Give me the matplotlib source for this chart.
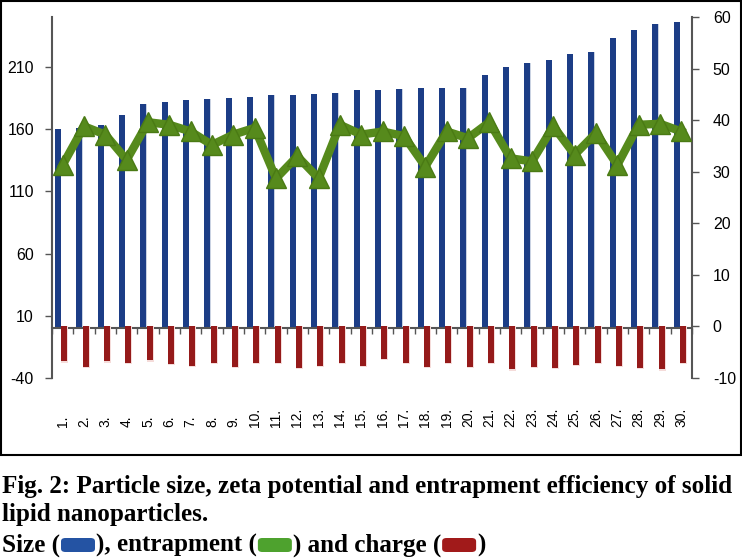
import numpy as np
import matplotlib
matplotlib.use('Agg')
import matplotlib.pyplot as plt
from matplotlib.patches import FancyBboxPatch, Rectangle
import matplotlib.transforms as mtransforms

plt.rcParams['axes.unicode_minus'] = False

labels = [f'{i}.' for i in range(1, 31)]
size = [160, 161, 163, 171, 180, 182, 183.5, 184.5, 185, 186,
        187, 187, 188, 189, 191, 191, 192, 193, 193, 193,
        203.5, 210, 213, 215.5, 220, 222, 233, 239.5, 244, 246]
entrapment = [31.3, 38.8, 37.2, 32.3, 39.6, 39.1, 37.8, 35.2, 37.2, 38.5,
              28.7, 33.0, 28.7, 39.1, 37.2, 37.8, 36.9, 31.0, 37.8, 36.5,
              39.6, 32.6, 32.0, 38.8, 33.3, 37.5, 31.3, 39.1, 39.3, 37.8]
charge = [-6.8, -7.8, -6.8, -7.0, -6.6, -7.2, -7.6, -7.0, -7.8, -7.1,
          -7.0, -8.1, -7.6, -7.1, -7.6, -6.3, -7.0, -7.9, -7.0, -7.9,
          -7.0, -8.3, -7.8, -8.0, -7.4, -7.0, -7.6, -8.0, -8.3, -7.0]
left_ticks = [-40, 10, 60, 110, 160, 210]
right_ticks = [-10, 0, 10, 20, 30, 40, 50, 60]

caption1 = 'Fig. 2: Particle size, zeta potential and entrapment efficiency of solid'
caption2 = 'lipid nanoparticles.'
caption3 = ['Size (', '), entrapment (', ') and charge (', ')']

blue = '#1c3d86'
red = '#951a1a'
green = '#568a1c'
axcol = '#555555'

fig = plt.figure(figsize=(7.42, 5.58), dpi=100)
ax = fig.add_axes([52/742, 180/558, 640/742, 361/558])
ax2 = ax.twinx()

x = np.arange(len(labels))
# blue bars with a light shadow on the right
ax.bar(x - 0.14, size, width=0.14, color='#c9d2e2', zorder=1)
ax.bar(x - 0.22, size, width=0.28, color=blue, zorder=2)
ax.set_xlim(-0.5, len(labels) - 0.5)
ax.set_ylim(-40, 250)
ax.set_yticks(left_ticks)

# charge bars and entrapment line on the right axis
ax2.bar(x + 0.1, np.array(charge) - 0.25, width=0.34, color='#f5dcda', zorder=1)
ax2.bar(x + 0.085, charge, width=0.28, color=red, zorder=2)
ax2.plot(x, entrapment, color=green, lw=6, marker='^', ms=14,
         mfc=green, mec='#4a7a14', mew=1, zorder=3)
ax2.set_ylim(-10, 60)
ax2.set_yticks(right_ticks)

for a in (ax, ax2):
    for s in ['top', 'right', 'left', 'bottom']:
        a.spines[s].set_visible(False)
ax.spines['left'].set_visible(True)
ax.spines['left'].set_color(axcol)
ax.spines['left'].set_linewidth(1.5)
ax2.spines['right'].set_visible(True)
ax2.spines['right'].set_color(axcol)
ax2.spines['right'].set_linewidth(1.5)
ax.spines['bottom'].set_visible(True)
ax.spines['bottom'].set_position(('data', 0))
ax.spines['bottom'].set_color(axcol)
ax.spines['bottom'].set_linewidth(1.5)
ax.spines['bottom'].set_zorder(5)

ax.set_xticks(np.arange(-0.5, len(labels), 1.0))
ax.set_xticklabels([])
ax.tick_params(axis='x', direction='out', length=4, color=axcol, width=1)
ax.tick_params(axis='y', direction='out', length=5, color=axcol, width=1,
               labelsize=11.5, pad=8)
ax2.tick_params(axis='y', direction='out', length=5, color=axcol, width=1,
                labelsize=11.5, pad=10)
for t in ax.get_yticklabels() + ax2.get_yticklabels():
    t.set_family('Liberation Sans')

trans = mtransforms.blended_transform_factory(ax.transData, ax.transAxes)
for i, lab in enumerate(labels):
    ax.text(i, -0.136, lab, rotation=90, ha='center', va='bottom',
            fontsize=10, family='Liberation Sans', transform=trans)

# frame around chart
fig.patches.append(Rectangle((0.001, 1 - 455/558), 0.997, 455/558 - 0.002,
                             transform=fig.transFigure, fill=False,
                             lw=1.5, ec='black'))

# caption
fig.canvas.draw()
r = fig.canvas.get_renderer()
t1 = fig.text(2/742, 1 - 486/558, caption1, fontsize=15, weight='bold',
              family='Liberation Serif', va='center')
w = t1.get_window_extent(r).width
fs = 15 * 733 / w
t1.set_fontsize(fs)
fig.text(2/742, 1 - 515/558, caption2, fontsize=fs, weight='bold',
         family='Liberation Serif', va='center')

# line 3: text pieces with coloured rounded boxes
box_cols = ['#2453a3', '#4ea22e', '#a11a1a']
box_w = 34
xpos = 2
ycen = 1 - 545/558
for k, p in enumerate(caption3):
    t = fig.text(xpos/742, ycen, p, fontsize=fs, weight='bold',
                 family='Liberation Serif', va='center')
    xpos += t.get_window_extent(r).width
    if k < 3:
        bx = FancyBboxPatch(((xpos + 1)/742, 1 - 552/558), box_w/742, 14/558,
                            boxstyle='round,pad=0,rounding_size=0.006',
                            transform=fig.transFigure, fc=box_cols[k], ec='none')
        fig.patches.append(bx)
        xpos += box_w + 2

fig.savefig('out.png', dpi=100)
